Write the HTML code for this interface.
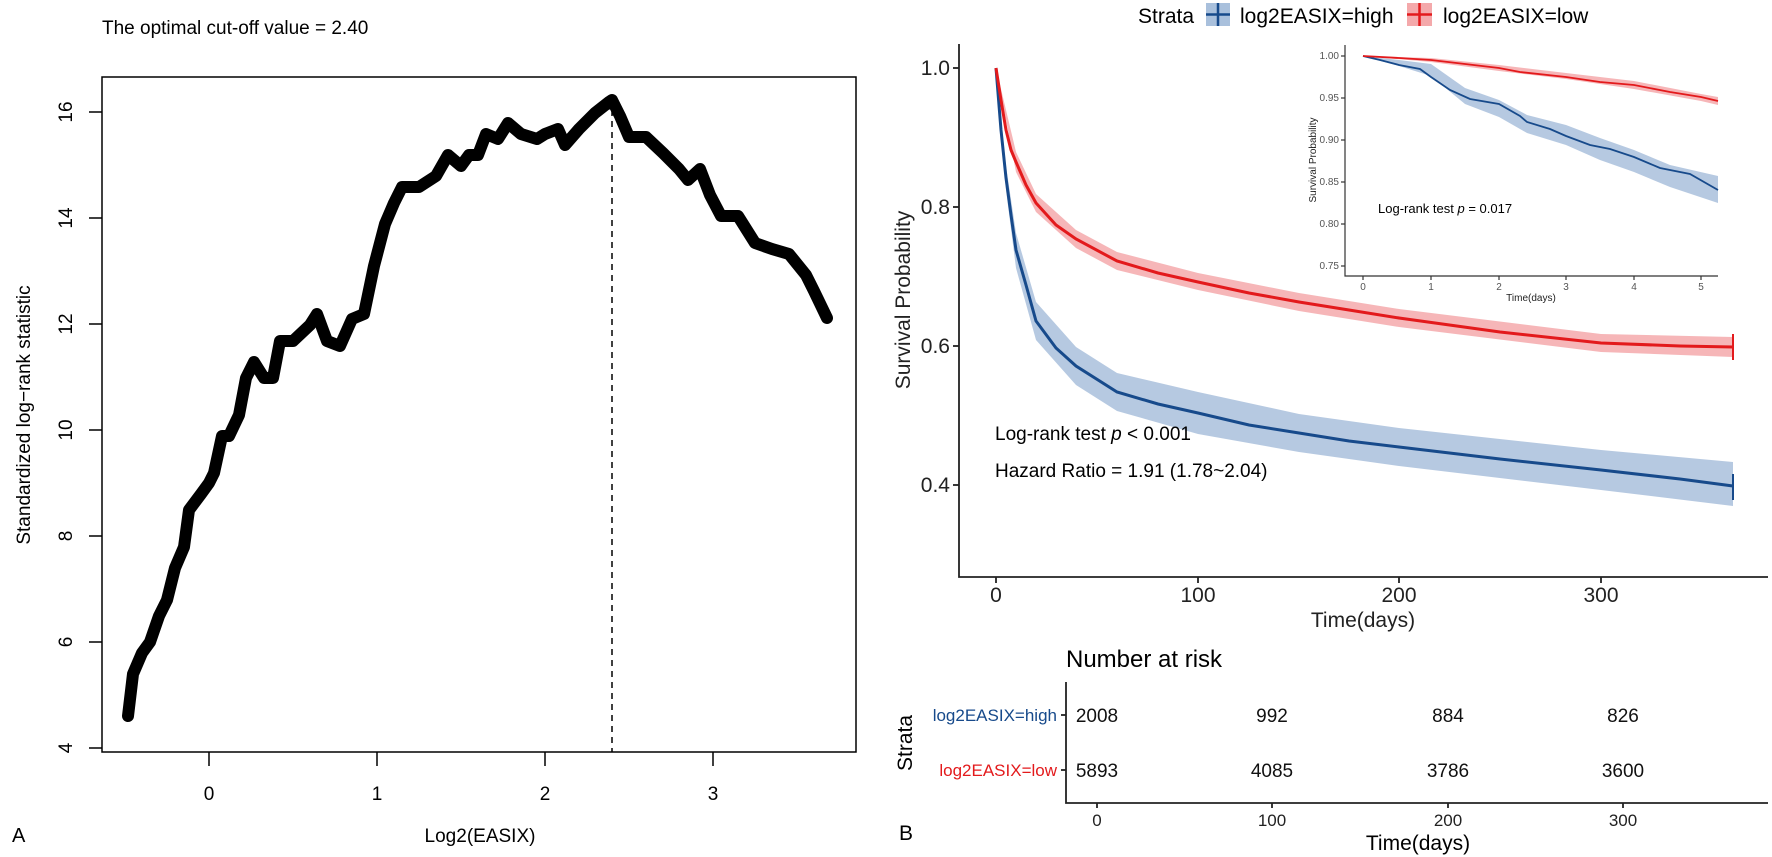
<!DOCTYPE html>
<html><head><meta charset="utf-8"><style>
html,body{margin:0;padding:0;background:#fff}
svg{display:block;font-family:"Liberation Sans",Arial,sans-serif}
</style></head><body>
<svg width="1772" height="857" viewBox="0 0 1772 857" xmlns="http://www.w3.org/2000/svg">
<!-- Panel A -->
<text x="102" y="34" font-size="19">The optimal cut-off value = 2.40</text>
<rect x="102" y="77" width="754" height="675" fill="none" stroke="#000" stroke-width="1.5"/>
<g stroke="#000" stroke-width="1.5">
<line x1="89" y1="748" x2="102" y2="748"/><line x1="89" y1="642" x2="102" y2="642"/>
<line x1="89" y1="536" x2="102" y2="536"/><line x1="89" y1="430" x2="102" y2="430"/>
<line x1="89" y1="324" x2="102" y2="324"/><line x1="89" y1="218" x2="102" y2="218"/>
<line x1="89" y1="112" x2="102" y2="112"/>
<line x1="209" y1="752" x2="209" y2="766"/><line x1="377" y1="752" x2="377" y2="766"/>
<line x1="545" y1="752" x2="545" y2="766"/><line x1="713" y1="752" x2="713" y2="766"/>
</g>
<g font-size="19" text-anchor="middle">
<text transform="translate(72,748) rotate(-90)">4</text>
<text transform="translate(72,642) rotate(-90)">6</text>
<text transform="translate(72,536) rotate(-90)">8</text>
<text transform="translate(72,430) rotate(-90)">10</text>
<text transform="translate(72,324) rotate(-90)">12</text>
<text transform="translate(72,218) rotate(-90)">14</text>
<text transform="translate(72,112) rotate(-90)">16</text>
<text x="209" y="800">0</text><text x="377" y="800">1</text><text x="545" y="800">2</text><text x="713" y="800">3</text>
<text x="480" y="842">Log2(EASIX)</text>
<text transform="translate(30,415) rotate(-90)">Standardized log−rank statistic</text>
</g>
<text x="12" y="842" font-size="20">A</text>
<line x1="612" y1="110" x2="612" y2="752" stroke="#000" stroke-width="1.5" stroke-dasharray="6,5"/>
<polyline fill="none" stroke="#000" stroke-width="12" stroke-linejoin="round" stroke-linecap="round" points="
128,716 133,674 142,653 150,642 159,616 167,600 175,568 184,547 189,510 201,494 209,483 214,473 222,436 229,436 239,415 246,378 254,362 264,378 273,378 280,341 293,341 310,325 317,314 327,341 340,346 352,319 364,314 374,266 385,224 394,203 402,187 419,187 436,176 448,155 461,166 469,155 478,155 486,134 498,139 508,123 521,134 537,139 545,134 558,129 565,145 579,129 595,113 609,102 612,100 620,116 629,137 646,137 663,153 679,169 688,180 700,169 710,195 721,216 738,216 755,243 772,249 789,254 806,275 814,291 827,318"/>
<!-- Panel B legend -->
<text x="1138" y="23" font-size="21">Strata</text>
<rect x="1206" y="3" width="24" height="23" fill="#a9c0dc"/>
<line x1="1206" y1="14.5" x2="1230" y2="14.5" stroke="#174a8b" stroke-width="2.5"/>
<line x1="1218" y1="3" x2="1218" y2="26" stroke="#174a8b" stroke-width="2.5"/>
<text x="1240" y="23" font-size="21">log2EASIX=high</text>
<rect x="1407" y="3" width="25" height="23" fill="#f4a9ab"/>
<line x1="1407" y1="14.5" x2="1432" y2="14.5" stroke="#e31a1c" stroke-width="2.5"/>
<line x1="1419.5" y1="3" x2="1419.5" y2="26" stroke="#e31a1c" stroke-width="2.5"/>
<text x="1443" y="23" font-size="21">log2EASIX=low</text>
<!-- main KM axes -->
<g stroke="#222" stroke-width="1.8" fill="none">
<polyline points="959,44 959,577 1768,577"/>
<line x1="953" y1="68" x2="959" y2="68"/><line x1="953" y1="207" x2="959" y2="207"/>
<line x1="953" y1="346" x2="959" y2="346"/><line x1="953" y1="485" x2="959" y2="485"/>
<line x1="996" y1="577" x2="996" y2="583"/><line x1="1198" y1="577" x2="1198" y2="583"/>
<line x1="1399" y1="577" x2="1399" y2="583"/><line x1="1601" y1="577" x2="1601" y2="583"/>
</g>
<g font-size="21" fill="#222">
<g text-anchor="end"><text x="950" y="75">1.0</text><text x="950" y="214">0.8</text><text x="950" y="353">0.6</text><text x="950" y="492">0.4</text></g>
<g text-anchor="middle"><text x="996" y="602">0</text><text x="1198" y="602">100</text><text x="1399" y="602">200</text><text x="1601" y="602">300</text>
<text x="1363" y="627">Time(days)</text>
<text transform="translate(910,300) rotate(-90)">Survival Probability</text></g>
</g>
<!-- bands -->
<path fill="#a9c0dc" opacity="0.85" d="M996,68 L1006,166 L1016,233 L1036,302 L1076,347 L1117,373 L1198,392 L1299,414 L1399,428 L1601,450 L1733,462 L1733,506 L1601,490 L1399,466 L1299,452 L1198,434 L1117,411 L1076,385 L1036,340 L1016,268 L1006,190 L996,68 Z"/>
<path fill="#f4a9ab" opacity="0.85" d="M996,68 L1016,152 L1036,194 L1076,230 L1117,252 L1198,273 L1299,293 L1399,309 L1601,334 L1733,337 L1733,357 L1601,352 L1399,327 L1299,311 L1198,290 L1117,270 L1076,248 L1036,212 L1016,172 L996,68 Z"/>
<polyline fill="none" stroke="#174a8b" stroke-width="3" points="996,68 1001,130 1006,178 1011,215 1016,250 1026,285 1036,321 1056,348 1076,366 1117,392 1158,404 1198,413 1249,425 1299,433 1349,441 1399,447 1500,459 1601,470 1680,479 1733,486"/>
<polyline fill="none" stroke="#e31a1c" stroke-width="3" points="996,68 1001,100 1006,130 1011,150 1016,162 1026,185 1036,203 1056,225 1076,239 1117,261 1158,273 1198,282 1249,293 1299,302 1349,310 1399,318 1500,332 1601,343 1680,346 1733,347"/>
<line x1="1733" y1="334" x2="1733" y2="360" stroke="#e31a1c" stroke-width="2"/>
<line x1="1733" y1="474" x2="1733" y2="500" stroke="#174a8b" stroke-width="2"/>
<text x="880" y="0" font-size="1"> </text>
<text x="995" y="440" font-size="19">Log-rank test <tspan font-style="italic">p</tspan> &lt; 0.001</text>
<text x="995" y="477" font-size="19">Hazard Ratio = 1.91 (1.78~2.04)</text>
<!-- inset -->
<g stroke="#333" stroke-width="1.2" fill="none">
<polyline points="1345,45 1345,276 1718,276"/>
<line x1="1341" y1="56" x2="1345" y2="56"/><line x1="1341" y1="98" x2="1345" y2="98"/>
<line x1="1341" y1="140" x2="1345" y2="140"/><line x1="1341" y1="182" x2="1345" y2="182"/>
<line x1="1341" y1="224" x2="1345" y2="224"/><line x1="1341" y1="266" x2="1345" y2="266"/>
<line x1="1363" y1="276" x2="1363" y2="280"/><line x1="1431" y1="276" x2="1431" y2="280"/>
<line x1="1499" y1="276" x2="1499" y2="280"/><line x1="1566" y1="276" x2="1566" y2="280"/>
<line x1="1634" y1="276" x2="1634" y2="280"/><line x1="1701" y1="276" x2="1701" y2="280"/>
</g>
<g font-size="10" fill="#555">
<g text-anchor="end"><text x="1339" y="59">1.00</text><text x="1339" y="101">0.95</text><text x="1339" y="143">0.90</text><text x="1339" y="185">0.85</text><text x="1339" y="227">0.80</text><text x="1339" y="269">0.75</text></g>
<g text-anchor="middle"><text x="1363" y="290">0</text><text x="1431" y="290">1</text><text x="1499" y="290">2</text><text x="1566" y="290">3</text><text x="1634" y="290">4</text><text x="1701" y="290">5</text></g>
</g>
<text x="1531" y="301" font-size="10" text-anchor="middle" fill="#222">Time(days)</text>
<text transform="translate(1316,160) rotate(-90)" font-size="10" text-anchor="middle" fill="#222">Survival Probability</text>
<path fill="#a9c0dc" opacity="0.85" d="M1363,56 L1399,60 L1431,64 L1465,88 L1499,100 L1527,115 L1566,125 L1600,138 L1634,150 L1670,165 L1718,176 L1718,203 L1670,187 L1634,172 L1600,160 L1566,145 L1527,133 L1499,117 L1465,104 L1431,76 L1399,66 L1363,56 Z"/>
<path fill="#f4a9ab" opacity="0.85" d="M1363,56 L1431,58 L1499,65 L1566,73 L1634,81 L1701,94 L1718,97 L1718,105 L1701,101 L1634,89 L1566,79 L1499,71 L1431,62 L1363,56 Z"/>
<polyline fill="none" stroke="#174a8b" stroke-width="1.8" points="1363,56 1380,60 1399,65 1420,69 1431,77 1450,90 1470,99 1499,104 1520,116 1527,122 1550,129 1566,136 1590,145 1610,149 1634,157 1660,168 1690,174 1718,190"/>
<polyline fill="none" stroke="#e31a1c" stroke-width="1.8" points="1363,56 1399,58 1431,60 1465,64 1499,68 1520,72 1566,77 1600,82 1634,85 1670,92 1701,97 1718,101"/>
<text x="1378" y="213" font-size="13">Log-rank test <tspan font-style="italic">p</tspan> = 0.017</text>
<!-- risk table -->
<text x="1066" y="667" font-size="24">Number at risk</text>
<g stroke="#222" stroke-width="1.8" fill="none">
<polyline points="1066,682 1066,803 1768,803"/>
<line x1="1061" y1="715" x2="1066" y2="715"/><line x1="1061" y1="770" x2="1066" y2="770"/>
<line x1="1097" y1="803" x2="1097" y2="808"/><line x1="1272" y1="803" x2="1272" y2="808"/>
<line x1="1448" y1="803" x2="1448" y2="808"/><line x1="1623" y1="803" x2="1623" y2="808"/>
</g>
<g font-size="17" text-anchor="end"><text x="1057" y="721" fill="#174a8b">log2EASIX=high</text><text x="1057" y="776" fill="#e31a1c">log2EASIX=low</text></g>
<g font-size="19" text-anchor="middle" fill="#111">
<text x="1097" y="722">2008</text><text x="1272" y="722">992</text><text x="1448" y="722">884</text><text x="1623" y="722">826</text>
<text x="1097" y="777">5893</text><text x="1272" y="777">4085</text><text x="1448" y="777">3786</text><text x="1623" y="777">3600</text>
</g>
<g font-size="17" text-anchor="middle" fill="#222"><text x="1097" y="826">0</text><text x="1272" y="826">100</text><text x="1448" y="826">200</text><text x="1623" y="826">300</text></g>
<text x="1418" y="850" font-size="21" text-anchor="middle">Time(days)</text>
<text transform="translate(912,743) rotate(-90)" font-size="21" text-anchor="middle">Strata</text>
<text x="906" y="840" font-size="21" text-anchor="middle">B</text>
</svg>
</body></html>
